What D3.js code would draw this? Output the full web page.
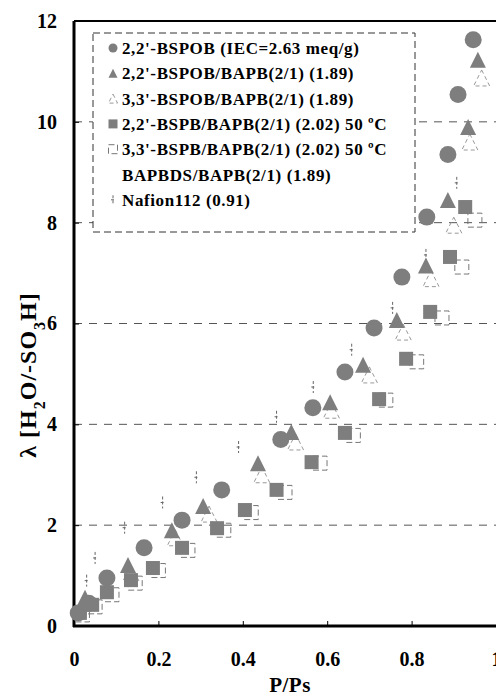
<!DOCTYPE html>
<html>
<head>
<meta charset="utf-8">
<script src="https://cdn.jsdelivr.net/npm/d3@7"></script>
<style>
  html, body { margin: 0; padding: 0; background: #fff; }
  svg { display: block; font-family: 'Liberation Serif', 'Times New Roman', serif; font-weight: bold; }
</style>
</head>
<body>
<div id="app"></div>
<script>
const width = 496;
const height = 700;

// series data: [P/Ps, lambda]
const bspob22 = [
  [0.01, 0.26], [0.035, 0.45], [0.078, 0.95], [0.166, 1.55], [0.256, 2.1],
  [0.35, 2.7], [0.49, 3.7], [0.566, 4.33], [0.642, 5.04], [0.711, 5.91],
  [0.777, 6.92], [0.836, 8.11], [0.886, 9.35], [0.91, 10.54], [0.946, 11.63]
];
const bspobBapb22 = [
  [0.026, 0.56], [0.128, 1.21], [0.232, 1.9], [0.306, 2.38], [0.436, 3.23],
  [0.515, 3.85], [0.607, 4.44], [0.685, 5.18], [0.765, 6.07], [0.834, 7.15],
  [0.886, 8.45], [0.934, 9.9], [0.957, 11.23]
];
const bspobBapb33 = [
  [0.03, 0.45], [0.135, 1.05], [0.24, 1.75], [0.32, 2.22], [0.445, 3.0],
  [0.525, 3.65], [0.61, 4.28], [0.7, 4.98], [0.78, 5.83], [0.846, 6.89],
  [0.9, 7.95], [0.938, 9.6], [0.966, 10.87]
];
const bspbBapb22 = [
  [0.014, 0.26], [0.043, 0.42], [0.078, 0.67], [0.135, 0.91], [0.187, 1.15],
  [0.256, 1.55], [0.339, 1.94], [0.405, 2.3], [0.48, 2.7], [0.563, 3.25],
  [0.642, 3.83], [0.723, 4.5], [0.787, 5.3], [0.844, 6.23], [0.891, 7.32],
  [0.927, 8.31]
];
const bspbBapb33 = [
  [0.02, 0.22], [0.05, 0.38], [0.09, 0.62], [0.145, 0.85], [0.2, 1.1],
  [0.27, 1.5], [0.355, 1.9], [0.42, 2.25], [0.5, 2.65], [0.583, 3.23],
  [0.662, 3.78], [0.739, 4.48], [0.812, 5.24], [0.872, 6.11], [0.919, 7.12],
  [0.95, 8.05]
];
const nafion112 = [
  [0.03, 0.9], [0.05, 1.35], [0.12, 1.95], [0.21, 2.45], [0.29, 2.95],
  [0.39, 3.55], [0.48, 4.15], [0.567, 4.74], [0.658, 5.48], [0.755, 6.31],
  [0.834, 7.36], [0.907, 8.79]
];

const legendLabels = [
  '2,2\'-BSPOB (IEC=2.63 meq/g)',
  '2,2\'-BSPOB/BAPB(2/1) (1.89)',
  '3,3\'-BSPOB/BAPB(2/1) (1.89)',
  '2,2\'-BSPB/BAPB(2/1) (2.02) 50 ºC',
  '3,3\'-BSPB/BAPB(2/1) (2.02) 50 ºC',
  'BAPBDS/BAPB(2/1) (1.89)',
  'Nafion112 (0.91)'
];
const legendSymbols = ['circle', 'triangle', 'triangleOpen', 'square', 'squareOpen', 'none', 'nafion'];

const xTicks = [0, 0.2, 0.4, 0.6, 0.8, 1];
const yTicks = [0, 2, 4, 6, 8, 10, 12];
const gridValues = [2, 4, 6, 8, 10];

const margin = { top: 21, left: 74, bottom: 626 };

const x = d3.scaleLinear().domain([0, 1]).range([margin.left, 496]);
const y = d3.scaleLinear().domain([0, 12]).range([margin.bottom, margin.top]);

const gray = '#7e7e7e';

const svg = d3.select('#app').append('svg')
  .attr('width', width)
  .attr('height', height);

// gridlines
svg.append('g')
  .selectAll('line')
  .data(gridValues)
  .enter().append('line')
  .attr('x1', margin.left)
  .attr('x2', width)
  .attr('y1', d => y(d))
  .attr('y2', d => y(d))
  .attr('stroke', '#555')
  .attr('stroke-width', 1)
  .attr('stroke-dasharray', '8,7');

// axes
const xAxis = d3.axisBottom(x).tickValues(xTicks).tickSize(-5).tickPadding(26)
  .tickFormat(d => d === 0 || d === 1 ? d3.format('d')(d) : d3.format('.1f')(d));
const yAxis = d3.axisLeft(y).tickValues(yTicks).tickSize(-5).tickPadding(17)
  .tickFormat(d3.format('d'));

const gx = svg.append('g')
  .attr('transform', `translate(0,${margin.bottom})`)
  .call(xAxis);
const gy = svg.append('g')
  .attr('transform', `translate(${margin.left},0)`)
  .call(yAxis);

[gx, gy].forEach(g => {
  g.select('.domain').remove();
  g.selectAll('.tick line').attr('stroke', '#000').attr('stroke-width', 1);
  g.selectAll('.tick text')
    .attr('fill', '#000')
    .style('font-size', '20px')
    .style('font-family', "'Liberation Serif', serif")
    .style('font-weight', 'bold');
});

// frame: thick left and bottom, top line
svg.append('line')
  .attr('x1', margin.left).attr('x2', margin.left)
  .attr('y1', margin.top).attr('y2', margin.bottom + 1)
  .attr('stroke', '#000').attr('stroke-width', 3);
svg.append('line')
  .attr('x1', margin.left - 1).attr('x2', width)
  .attr('y1', margin.bottom).attr('y2', margin.bottom)
  .attr('stroke', '#000').attr('stroke-width', 3);
svg.append('line')
  .attr('x1', margin.left).attr('x2', width)
  .attr('y1', margin.top).attr('y2', margin.top)
  .attr('stroke', '#000').attr('stroke-width', 2);

// symbol painters
const drawSymbol = (g, kind, size) => {
  const s = size;
  if (kind === 'circle') {
    g.append('circle').attr('r', s / 2).attr('fill', gray);
  } else if (kind === 'triangle') {
    g.append('path')
      .attr('d', `M0,${-s / 2}L${s / 2},${s / 2}L${-s / 2},${s / 2}Z`)
      .attr('fill', gray);
  } else if (kind === 'triangleOpen') {
    g.append('path')
      .attr('d', `M0,${-s / 2}L${s / 2},${s / 2}L${-s / 2},${s / 2}Z`)
      .attr('fill', 'none').attr('stroke', '#999').attr('stroke-width', 1)
      .attr('stroke-dasharray', '4,3');
  } else if (kind === 'square') {
    g.append('rect')
      .attr('x', -s / 2).attr('y', -s / 2).attr('width', s).attr('height', s)
      .attr('fill', gray);
  } else if (kind === 'squareOpen') {
    g.append('rect')
      .attr('x', -s / 2).attr('y', -s / 2).attr('width', s).attr('height', s)
      .attr('fill', 'none').attr('stroke', '#777').attr('stroke-width', 1)
      .attr('stroke-dasharray', '6,3');
  } else if (kind === 'nafion') {
    g.append('path')
      .attr('d', `M0,${-s / 2}V${s / 2}M-2,0H2`)
      .attr('fill', 'none').attr('stroke', '#666').attr('stroke-width', 1)
      .attr('stroke-dasharray', '3,2');
  }
};

const plotSeries = (data, kind, size) => {
  svg.append('g')
    .selectAll('g')
    .data(data)
    .enter().append('g')
    .attr('transform', d => `translate(${x(d[0])},${y(d[1])})`)
    .each(function () { drawSymbol(d3.select(this), kind, size); });
};

plotSeries(bspobBapb33, 'triangleOpen', 16);
plotSeries(bspbBapb33, 'squareOpen', 14);
plotSeries(nafion112, 'nafion', 12);
plotSeries(bspbBapb22, 'square', 14);
plotSeries(bspobBapb22, 'triangle', 16);
plotSeries(bspob22, 'circle', 17);

// legend
const legend = svg.append('g');
legend.append('rect')
  .attr('x', 93).attr('y', 33).attr('width', 322).attr('height', 199)
  .attr('fill', '#fff')
  .attr('stroke', '#333').attr('stroke-width', 1)
  .attr('stroke-dasharray', '7,4');

const rows = legend.selectAll('g.row')
  .data(legendLabels)
  .enter().append('g')
  .attr('class', 'row')
  .attr('transform', (d, i) => `translate(0,${48 + i * 25.3})`);

rows.append('g')
  .attr('transform', 'translate(113,0)')
  .each(function (d, i) { drawSymbol(d3.select(this), legendSymbols[i], 9); });

rows.append('text')
  .attr('x', 122)
  .attr('y', 6)
  .attr('fill', '#000')
  .style('font-size', '17px')
  .style('letter-spacing', '0.6px')
  .text(d => d);

// axis titles
svg.append('text')
  .attr('x', 290)
  .attr('y', 692)
  .attr('text-anchor', 'middle')
  .style('font-size', '21px')
  .style('letter-spacing', '0.5px')
  .text('P/Ps');

const yTitle = svg.append('text')
  .attr('transform', 'translate(36,375) rotate(-90)')
  .attr('text-anchor', 'middle')
  .style('font-size', '24px')
  .style('letter-spacing', '1px');
yTitle.append('tspan').text('λ [H');
yTitle.append('tspan').attr('baseline-shift', 'sub').style('font-size', '16px').text('2');
yTitle.append('tspan').text('O/-SO');
yTitle.append('tspan').attr('baseline-shift', 'sub').style('font-size', '16px').text('3');
yTitle.append('tspan').text('H]');
</script>
</body>
</html>
